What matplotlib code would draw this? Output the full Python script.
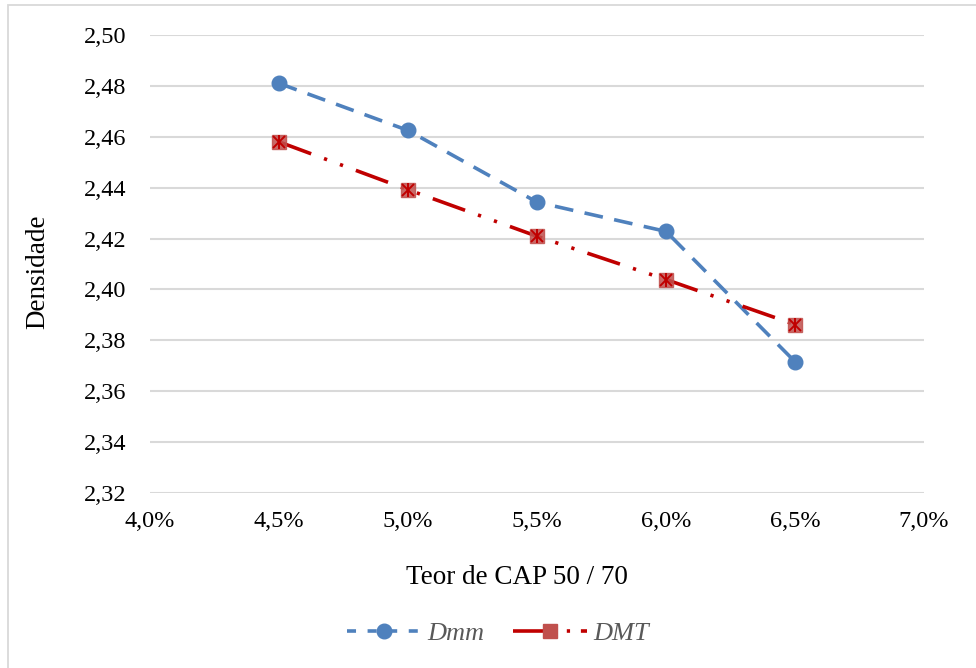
import matplotlib
matplotlib.use("Agg")
import matplotlib.pyplot as plt
from matplotlib.lines import Line2D
from matplotlib.patches import Rectangle
from matplotlib.ticker import FuncFormatter

# Binder content (CAP 50/70) and measured densities
teor_cap = [0.045, 0.050, 0.055, 0.060, 0.065]
dmm = [2.481, 2.4625, 2.4343, 2.4228, 2.3716]
dmt = [2.458, 2.4392, 2.4209, 2.4039, 2.3862]

y_ticks = [2.32, 2.34, 2.36, 2.38, 2.40, 2.42, 2.44, 2.46, 2.48, 2.50]
x_ticks = [0.040, 0.045, 0.050, 0.055, 0.060, 0.065, 0.070]

BLUE = "#4F81BD"
RED = "#C00000"
GRID = "#D9D9D9"

plt.rcParams["font.family"] = ["Liberation Serif", "DejaVu Serif"]

fig = plt.figure(figsize=(9.76, 6.68), dpi=100)
fig.patch.set_facecolor("white")

# outer chart border
fig.patches.append(Rectangle((8 / 976, -0.05), 1.2, 1 - 5 / 668 + 0.05,
                             transform=fig.transFigure, fill=False,
                             edgecolor=GRID, linewidth=1.3))

ax = fig.add_axes([150 / 976, 1 - 493 / 668, 774 / 976, 458 / 668])
ax.set_xlim(0.040, 0.070)
ax.set_ylim(2.32, 2.50)
ax.set_yticks(y_ticks)
ax.set_xticks(x_ticks)
ax.yaxis.set_major_formatter(FuncFormatter(lambda v, p: f"{v:.2f}".replace(".", ",")))
ax.xaxis.set_major_formatter(FuncFormatter(lambda v, p: f"{v * 100:.1f}%".replace(".", ",")))
ax.grid(axis="y", color=GRID, linewidth=1.5)
ax.set_axisbelow(True)
for s in ax.spines.values():
    s.set_visible(False)
ax.tick_params(length=0, labelsize=17.5, colors="black")
ax.tick_params(axis="y", pad=17)
ax.tick_params(axis="x", pad=13)

# Dmm series
ax.plot(teor_cap, dmm, color=BLUE, linewidth=2.6, linestyle=(0, (5.2, 3.2)),
        marker="o", markersize=10.5, markerfacecolor=BLUE, markeredgecolor=BLUE,
        clip_on=False, zorder=3)

# DMT series
dmt_ls = (0, (9.5, 3.8, 0.9, 3.8, 0.9, 3.8))
ax.plot(teor_cap, dmt, color=RED, linewidth=2.6, linestyle=dmt_ls,
        clip_on=False, zorder=3)
ax.plot(teor_cap, dmt, linestyle="none", marker="s", markersize=10.5,
        markerfacecolor="#C0504D", markeredgecolor="#C0504D", alpha=0.85,
        clip_on=False, zorder=4)
ax.plot(teor_cap, dmt, linestyle="none", marker="x", markersize=8,
        markeredgecolor=RED, markeredgewidth=1.4, clip_on=False, zorder=5)
ax.plot(teor_cap, dmt, linestyle="none", marker="|", markersize=10,
        markeredgecolor=RED, markeredgewidth=1.4, clip_on=False, zorder=5)

ax.set_ylabel("")
ax.set_xlabel("")
fig.text(38 / 976, 1 - 272 / 668, "Densidade", rotation=90, fontsize=19.5,
         ha="center", va="center")
fig.text(517 / 976, 1 - 578 / 668, "Teor de CAP 50 / 70", fontsize=19.5,
         ha="center", va="center")

# legend
h_dmm = Line2D([], [], color=BLUE, linewidth=2.6, linestyle=(0, (2.5, 3.2)),
               marker="o", markersize=10.5, markerfacecolor=BLUE, markeredgecolor=BLUE)
h_dmt = Line2D([], [], color=RED, linewidth=2.6, linestyle=(0, (9.5, 1.5, 0.9, 3.0, 0.9, 3.0)),
               marker="s", markersize=10.5, markerfacecolor="#C0504D",
               markeredgecolor="#C0504D")
leg = fig.legend([h_dmm, h_dmt], ["Dmm", "DMT"], loc="center",
                 bbox_to_anchor=(498 / 976, 1 - 633 / 668), ncol=2, frameon=False,
                 handlelength=2.8, handletextpad=0.25, columnspacing=1.1,
                 prop={"family": ["Liberation Serif"], "style": "italic", "size": 19})
for t in leg.get_texts():
    t.set_color("#595959")

fig.savefig("out.png", dpi=100, facecolor="white")
